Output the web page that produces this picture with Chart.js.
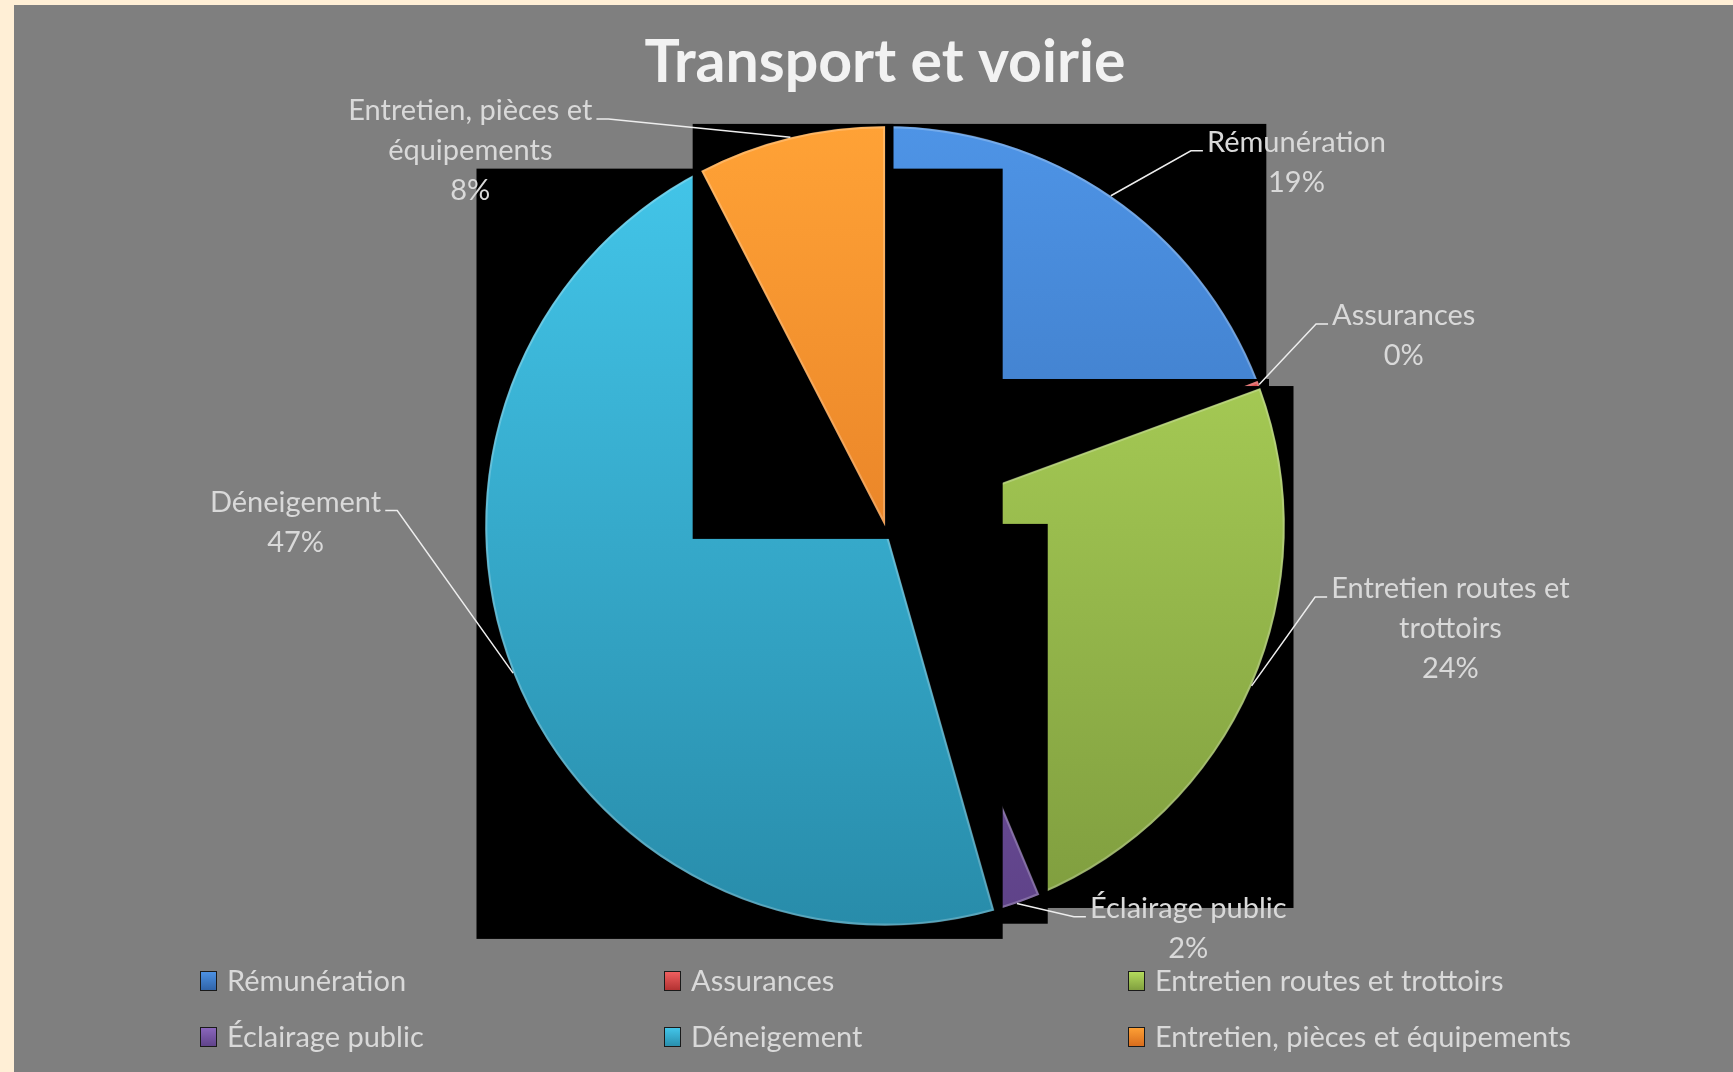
<!DOCTYPE html>
<html>
<head>
<meta charset="utf-8">
<title>Transport et voirie</title>
<script src="https://cdn.jsdelivr.net/npm/chart.js@4.4.1/dist/chart.umd.min.js"></script>
<style>
    html, body { margin:0; padding:0; background:#FFEFD6; }
    #frame { position:absolute; left:14px; top:5px; width:1719px; height:1067px; background:#7F7F7F; }
    canvas { display:block; }
</style>
</head>
<body>
<div id="frame"><canvas id="graphTransport" width="1719" height="1067"></canvas></div>
<script>
// categories and their share of the budget (%)
var categories = ['Rémunération', 'Assurances', 'Entretien routes et trottoirs', 'Éclairage public', 'Déneigement', 'Entretien, pièces et équipements'];
var parts = [19.1, 0.3, 24.3, 1.9, 46.8, 7.6];

// slice colours, light at the top of the pie and dark at the bottom
var colorsTop = ['#4E94E6', '#F26262', '#B6DE5E', '#8C68BE', '#44C8EC', '#FFA236'];
var colorsBottom = ['#2F62A6', '#B03030', '#7E9C3E', '#5E4288', '#288CAA', '#D66A1C'];

// where each outside label sits: angle from top (deg), distance (x radius), side of text
var labelPlacement = [
    {angle: 39.2, dist: 1.21, side: 'right'},
    {angle: 64.9, dist: 1.19, side: 'right'},
    {angle: 99.4, dist: 1.09, side: 'right'},
    {angle: 154.2, dist: 1.085, side: 'right'},
    {angle: 271.8, dist: 1.22, side: 'left'},
    {angle: 325.8, dist: 1.23, side: 'left'}
];

var PIE_RADIUS = 400;

function sliceFill(c){
    var i = c.dataIndex;
    var area = c.chart.chartArea;
    if(!area) return colorsBottom[i];
    var cy = (area.top + area.bottom) / 2;
    var g = c.chart.ctx.createLinearGradient(0, cy - PIE_RADIUS, 0, cy + PIE_RADIUS);
    g.addColorStop(0, colorsTop[i]);
    g.addColorStop(1, colorsBottom[i]);
    return g;
}

// black boxes behind every slice, drawn slice by slice (like the original render)
var shadowBoxes = {
    id: 'shadowBoxes',
    beforeDatasetsDraw: function(chart, args, opts){
        var ctx = chart.ctx;
        var meta = chart.getDatasetMeta(0);
        meta.data.forEach(function(arc){
            var p = arc.getProps(['x', 'y', 'startAngle', 'endAngle', 'outerRadius']);
            var xs = [p.x], ys = [p.y];
            function add(a){
                xs.push(p.x + p.outerRadius * Math.cos(a));
                ys.push(p.y + p.outerRadius * Math.sin(a));
            }
            add(p.startAngle);
            add(p.endAngle);
            for(var k = -4; k <= 8; k++){
                var a = k * Math.PI / 2;
                if(a > p.startAngle && a < p.endAngle) add(a);
            }
            var x0 = Math.min.apply(null, xs) - opts.side;
            var x1 = Math.max.apply(null, xs) + opts.side;
            var y0 = Math.min.apply(null, ys) - opts.top;
            var y1 = Math.max.apply(null, ys) + opts.bottom;
            ctx.save();
            ctx.fillStyle = '#000';
            ctx.fillRect(x0, y0, x1 - x0, y1 - y0);
            ctx.restore();
            arc.draw(ctx);
        });
        return false;
    }
};

function wrapText(ctx, text, maxWidth){
    var words = text.split(' ');
    var lines = [];
    var line = '';
    words.forEach(function(w){
        var test = line ? line + ' ' + w : w;
        if(line && ctx.measureText(test).width > maxWidth){
            lines.push(line);
            line = w;
        }else{
            line = test;
        }
    });
    if(line) lines.push(line);
    return lines;
}

var outsideLabels = {
    id: 'outsideLabels',
    afterDraw: function(chart, args, opts){
        var ctx = chart.ctx;
        var meta = chart.getDatasetMeta(0);
        var values = chart.data.datasets[0].data;
        var total = values.reduce(function(a, b){ return a + b; }, 0);
        ctx.save();
        ctx.font = opts.font;
        meta.data.forEach(function(arc, i){
            var p = arc.getProps(['x', 'y', 'startAngle', 'endAngle', 'outerRadius']);
            var mid = (p.startAngle + p.endAngle) / 2;
            var sx = p.x + p.outerRadius * Math.cos(mid);
            var sy = p.y + p.outerRadius * Math.sin(mid);
            var place = opts.placement[i];
            var ea = (place.angle - 90) * Math.PI / 180;
            var ex = p.x + p.outerRadius * place.dist * Math.cos(ea);
            var ey = p.y + p.outerRadius * place.dist * Math.sin(ea);
            var dir = place.side === 'left' ? -1 : 1;
            var tx = ex + dir * opts.tick;

            ctx.strokeStyle = opts.lineColor;
            ctx.lineWidth = opts.lineWidth;
            ctx.beginPath();
            ctx.moveTo(sx, sy);
            ctx.lineTo(ex, ey);
            ctx.lineTo(tx, ey);
            ctx.stroke();

            var lines = wrapText(ctx, chart.data.labels[i], opts.maxWidth);
            lines.push(Math.round(values[i] / total * 100) + '%');
            var w = 0;
            lines.forEach(function(l){ w = Math.max(w, ctx.measureText(l).width); });
            var cx = tx + dir * (opts.gap + w / 2);
            ctx.fillStyle = opts.color;
            ctx.textAlign = 'center';
            ctx.textBaseline = 'alphabetic';
            lines.forEach(function(l, k){
                ctx.fillText(l, cx, ey + opts.baselineShift + k * opts.lineHeight);
            });
        });
        ctx.restore();
    }
};

var gridLegend = {
    id: 'gridLegend',
    afterDraw: function(chart, args, opts){
        var ctx = chart.ctx;
        var labels = chart.data.labels;
        ctx.save();
        ctx.font = opts.font;
        ctx.textAlign = 'left';
        ctx.textBaseline = 'middle';
        labels.forEach(function(label, i){
            var row = Math.floor(i / opts.columns);
            var col = i % opts.columns;
            var x = opts.x0 + col * opts.colWidth;
            var y = chart.chartArea.bottom + opts.offsetY + row * opts.rowHeight;
            var g = ctx.createLinearGradient(0, y - opts.boxH / 2, 0, y + opts.boxH / 2);
            g.addColorStop(0, colorsTop[i]);
            g.addColorStop(1, colorsBottom[i]);
            ctx.fillStyle = g;
            ctx.fillRect(x, y - opts.boxH / 2, opts.boxW, opts.boxH);
            ctx.strokeStyle = '#1a1a1a';
            ctx.lineWidth = 1;
            ctx.strokeRect(x + 0.5, y - opts.boxH / 2 + 0.5, opts.boxW - 1, opts.boxH - 1);
            ctx.fillStyle = opts.color;
            ctx.fillText(label, x + opts.textGap, y + 1);
        });
        ctx.restore();
    }
};

var graphTransport = new Chart('graphTransport', {
    type: 'pie',
    data: {
        labels: categories,
        datasets: [{
            data: parts,
            backgroundColor: sliceFill,
            borderColor: 'rgba(255,255,255,0.22)',
            borderWidth: 2,
            borderAlign: 'inner',
            hoverOffset: 0,
            radius: PIE_RADIUS
        }]
    },
    options: {
        responsive: false,
        animation: false,
        events: [],
        layout: { padding: { top: 0, bottom: 146, left: 120, right: 97 } },
        plugins: {
            legend: { display: false },
            tooltip: { enabled: false },
            title: {
                display: true,
                text: 'Transport et voirie',
                color: '#F2F2F2',
                font: { family: 'Lato', size: 59, weight: 'bold', lineHeight: 1.2 },
                padding: { top: 23, bottom: 27 }
            },
            shadowBoxes: { side: 8.5, top: 2, bottom: 13 },
            outsideLabels: {
                placement: labelPlacement,
                font: '29px Lato',
                color: '#D9D9D9',
                lineColor: '#EDEDED',
                lineWidth: 1.5,
                tick: 12,
                gap: 4,
                maxWidth: 262,
                lineHeight: 40,
                baselineShift: 1
            },
            gridLegend: {
                font: '29px Lato',
                color: '#D9D9D9',
                columns: 3,
                x0: 186,
                colWidth: 464,
                offsetY: 55,
                rowHeight: 56,
                boxW: 17,
                boxH: 20,
                textGap: 27
            }
        }
    },
    plugins: [shadowBoxes, outsideLabels, gridLegend]
});
</script>
</body>
</html>
